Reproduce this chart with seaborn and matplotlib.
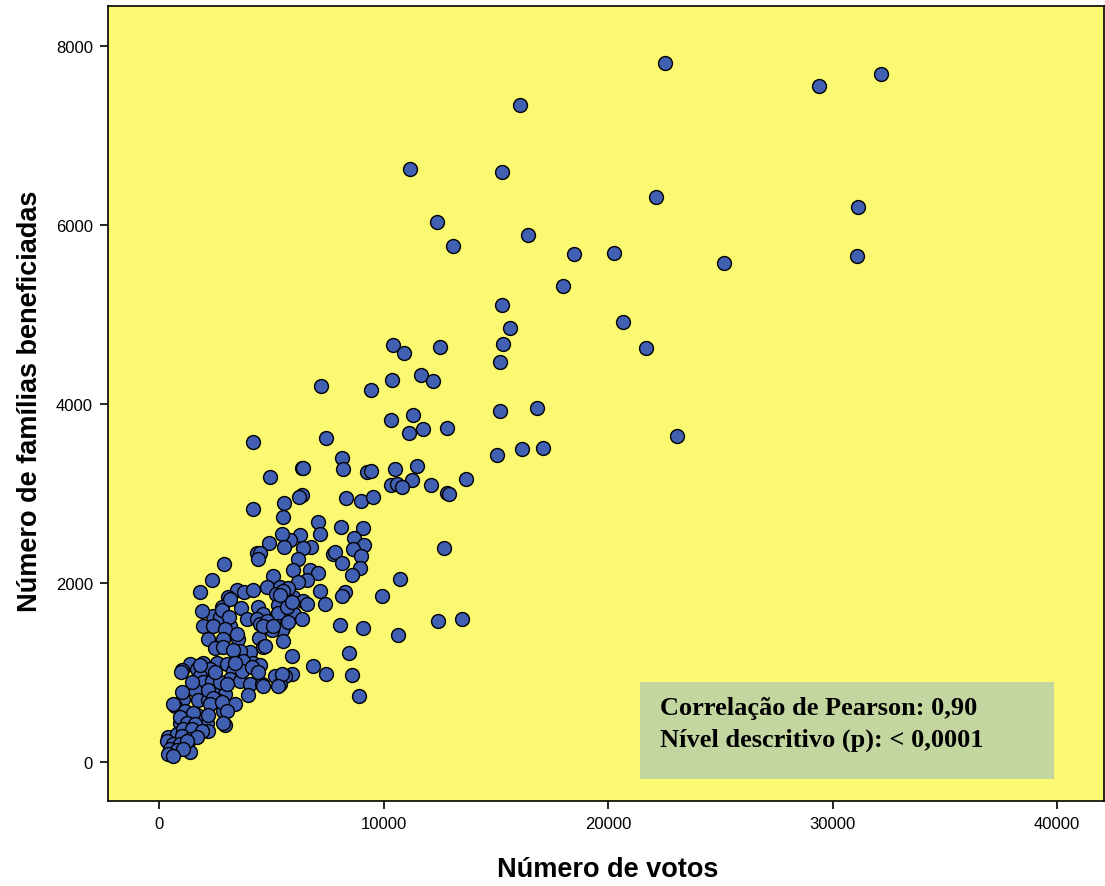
import matplotlib
matplotlib.use("Agg")
import matplotlib.pyplot as plt
from matplotlib.patches import Rectangle
import numpy as np
import pandas as pd
import seaborn as sns

# Municipal data: number of votes vs. number of families benefited
votos_altos = [22540, 32150, 29400, 16070, 11180, 15260, 22120, 31120, 12380, 13100,
               16450, 18480, 20280, 25170, 31080, 17980, 15260, 20650, 15650, 21690,
               10420, 12520, 15340, 10910, 15190, 11670, 12200, 10360, 7220, 9430,
               15190, 16820, 10320, 11300, 11150, 11770, 12830, 23090, 7420, 4200,
               16150, 17090, 15040, 8150, 10500, 11480, 6360, 6430, 8180, 9250,
               9440, 4940, 11260, 13660, 10320, 10590, 10810, 12120, 12830, 12900]
familias_altos = [7810, 7690, 7550, 7340, 6620, 6590, 6310, 6200, 6030, 5760,
                  5890, 5680, 5690, 5570, 5650, 5320, 5110, 4920, 4850, 4620,
                  4660, 4640, 4670, 4570, 4470, 4320, 4260, 4270, 4200, 4160,
                  3920, 3950, 3820, 3880, 3680, 3720, 3730, 3640, 3620, 3570,
                  3500, 3510, 3430, 3400, 3270, 3310, 3280, 3280, 3270, 3240,
                  3250, 3180, 3150, 3160, 3090, 3110, 3070, 3090, 3000, 2990]

votos_medios = [6370, 6250, 8320, 9010, 9550, 5570, 4170, 5540, 7080, 8090,
                9070, 6280, 7180, 8690, 5830, 5470, 4910, 5570, 6780, 6430,
                9130, 8650, 12710, 7760, 7840, 9000, 4350, 4500, 4420, 6180,
                8140, 2900, 8970, 6730, 7100, 5960, 8610, 6580, 6200, 10730,
                7170, 8280, 8140, 9920, 5980, 6400, 6610, 7410, 6010, 6360,
                8060, 9090, 12430, 13510, 10660, 8460, 5910, 6840, 7450, 8580,
                8920, 5910]
familias_medios = [2980, 2960, 2950, 2910, 2960, 2890, 2830, 2740, 2680, 2630,
                   2610, 2540, 2550, 2500, 2480, 2550, 2450, 2400, 2400, 2390,
                   2420, 2380, 2390, 2320, 2350, 2300, 2330, 2330, 2270, 2270,
                   2220, 2210, 2170, 2150, 2110, 2140, 2090, 2030, 2010, 2040,
                   1910, 1900, 1850, 1850, 1840, 1800, 1760, 1760, 1650, 1600,
                   1530, 1500, 1580, 1600, 1420, 1220, 1180, 1070, 980, 970,
                   740, 980]

votos_baixos = [2350, 1830, 5090, 3490, 3790, 4170, 4820, 5390, 5760, 5210,
                5510, 3090, 2790, 3640, 4420, 4650, 5290, 5310, 5690, 2420,
                2720, 2790, 3910, 4350, 4500, 1970, 2420, 3160, 4800, 5310,
                5540, 3160, 3100, 1900, 5470, 5020, 2940, 2200, 2860, 3530,
                4470, 4620, 4050, 3610, 2490, 2860, 3310, 1970, 2570, 2270,
                3020, 3310, 3830, 4200, 4500, 1380, 1680, 1830, 5170, 5610,
                3160, 3610, 4050, 4570, 5390, 1970, 2570, 1040, 1000, 3460,
                5540, 4720, 3750, 3680, 4130, 4420, 5470, 5310, 4650, 3980,
                1600, 2420, 2940, 3390, 1080, 710, 1750, 2200, 2570, 2860,
                2940, 2120, 2200, 940, 1380, 1680, 410, 790, 1080, 570,
                1080, 1380, 1460, 2350, 2720, 3020, 1010, 2200, 2420, 640,
                2270, 2790, 3020, 1160, 1530, 2200, 940, 1230, 1600, 2860,
                1080, 1460, 1900, 1010, 1380, 1680, 340, 640, 940, 1230,
                490, 790, 1080, 410, 640, 3390, 1830, 2490, 5390, 5910,
                5760, 4800, 4650, 5090]
familias_baixos = [2030, 1900, 2080, 1920, 1900, 1920, 1950, 1950, 1940, 1880,
                   1910, 1840, 1730, 1720, 1730, 1650, 1750, 1660, 1730, 1630,
                   1620, 1700, 1600, 1600, 1540, 1520, 1520, 1520, 1540, 1520,
                   1500, 1820, 1620, 1690, 1470, 1470, 1490, 1370, 1370, 1370,
                   1390, 1280, 1230, 1240, 1270, 1280, 1250, 1110, 1110, 1040,
                   1090, 1020, 1080, 1110, 1080, 1090, 1040, 960, 960, 960,
                   930, 910, 870, 870, 870, 890, 850, 1030, 1010, 1430,
                   1350, 1300, 1130, 1020, 1060, 1000, 980, 850, 850, 750,
                   800, 800, 760, 650, 700, 630, 690, 690, 690, 570,
                   410, 440, 350, 440, 480, 520, 280, 310, 330, 160,
                   220, 110, 890, 910, 890, 870, 780, 800, 720, 650,
                   650, 670, 570, 570, 550, 520, 500, 440, 420, 440,
                   370, 370, 350, 290, 260, 280, 240, 200, 200, 240,
                   150, 130, 150, 90, 70, 1110, 1080, 1000, 1860, 1790,
                   1560, 1580, 1520, 1520]

x_ticks = [0, 10000, 20000, 30000, 40000]
y_ticks = [0, 2000, 4000, 6000, 8000]
texto_caixa = ["Correlação de Pearson: 0,90", "Nível descritivo (p): < 0,0001"]

df = pd.DataFrame({
    "votos": votos_altos + votos_medios + votos_baixos,
    "familias": familias_altos + familias_medios + familias_baixos,
})

sns.set_style("ticks")
plt.rcParams["font.family"] = ["Liberation Sans", "DejaVu Sans"]
plt.rcParams.update({
    "text.color": "black",
    "axes.labelcolor": "black",
    "xtick.color": "black",
    "ytick.color": "black",
})

fig = plt.figure(figsize=(11.05, 8.87), dpi=100)
ax = fig.add_axes([0.098, 0.0962, 0.9011, 0.8962])
ax.set_facecolor("#FBF872")

sns.scatterplot(data=df, x="votos", y="familias", s=100, color="#4260B2",
                edgecolor="black", linewidth=1.0, ax=ax, zorder=3, legend=False)

ax.set_xlim(-2258, 42090)
ax.set_ylim(-432, 8448)
ax.set_xticks(x_ticks)
ax.set_yticks(y_ticks)
ax.set_xticklabels([str(t) for t in x_ticks], fontsize=12)
ax.set_yticklabels([str(t) for t in y_ticks], fontsize=12)
ax.tick_params(direction="out", length=6, width=1.2, colors="black",
               labelcolor="black", pad=5)

for side in ["left", "right", "top", "bottom"]:
    ax.spines[side].set_visible(True)
    ax.spines[side].set_color("black")
    ax.spines[side].set_linewidth(1.2)

ax.set_xlabel("Número de votos", fontsize=19.5, fontweight="bold", color="black")
ax.set_ylabel("Número de famílias beneficiadas", fontsize=19.5, fontweight="bold",
              color="black")
ax.xaxis.set_label_coords(0.502, -0.086)
ax.yaxis.set_label_coords(-0.0786, 0.504)
ax.xaxis.label.set_va("center")
ax.yaxis.label.set_va("center")

# Statistics box
ax.add_patch(Rectangle((0.534, 0.0277), 0.416, 0.121, transform=ax.transAxes,
                       facecolor="#C4D6A0", edgecolor="none", zorder=4))
for i, linha in enumerate(texto_caixa):
    ax.text(0.554, 0.1166 - i * 0.039, linha, transform=ax.transAxes,
            ha="left", va="center", fontsize=19, fontweight="bold",
            color="black", family=["Liberation Serif", "DejaVu Serif"], zorder=5)

fig.savefig("out.png", dpi=100)
